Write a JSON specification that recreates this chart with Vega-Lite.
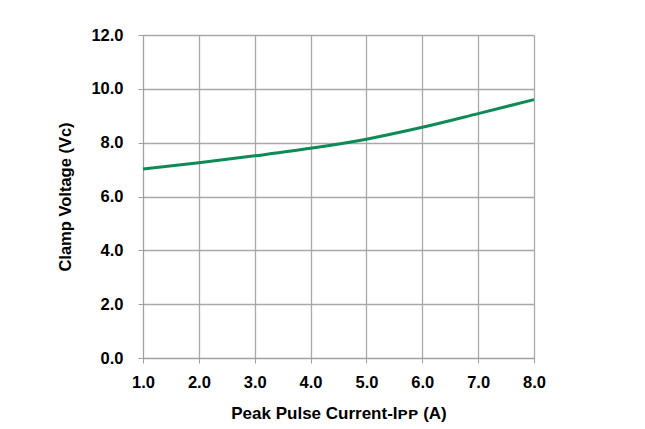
{
  "$schema": "https://vega.github.io/schema/vega-lite/v6.json",
  "autosize": "none",
  "width": 391,
  "height": 323,
  "padding": {"left": 143, "top": 35, "right": 111, "bottom": 71},
  "background": "white",
  "config": {
    "view": {"stroke": null},
    "font": "Liberation Sans"
  },
  "data": {
    "values": [
      {"current": 1, "voltage": 7.02},
      {"current": 2, "voltage": 7.25},
      {"current": 3, "voltage": 7.51},
      {"current": 4, "voltage": 7.79},
      {"current": 5, "voltage": 8.13},
      {"current": 6, "voltage": 8.57},
      {"current": 7, "voltage": 9.08},
      {"current": 8, "voltage": 9.6}
    ]
  },
  "mark": {"type": "line", "color": "#0e8a56", "strokeWidth": 3, "interpolate": "monotone"},
  "encoding": {
    "x": {
      "field": "current",
      "type": "quantitative",
      "scale": {"domain": [1, 8], "nice": false, "zero": false},
      "axis": {
        "values": [1, 2, 3, 4, 5, 6, 7, 8],
        "format": ".1f",
        "title": "Peak Pulse Current-Iᴘᴘ  (A)",
        "titleFont": "Liberation Sans",
        "titleFontSize": 17,
        "titleFontWeight": "bold",
        "titleColor": "black",
        "titlePadding": 15,
        "labelFont": "Liberation Sans",
        "labelFontSize": 16.5,
        "labelFontWeight": "bold",
        "labelColor": "black",
        "labelPadding": 11,
        "labelFlush": false,
        "labelOverlap": false,
        "tickSize": 5,
        "tickColor": "#a0a0a0",
        "domainColor": "#a0a0a0",
        "gridColor": "#a8a8a8",
        "gridWidth": 1.3,
        "grid": true
      }
    },
    "y": {
      "field": "voltage",
      "type": "quantitative",
      "scale": {"domain": [0, 12], "nice": false},
      "axis": {
        "values": [0, 2, 4, 6, 8, 10, 12],
        "format": ".1f",
        "title": "Clamp Voltage (Vᴄ)",
        "titleFont": "Liberation Sans",
        "titleFontSize": 16.5,
        "titleFontWeight": "bold",
        "titleColor": "black",
        "titlePadding": 17,
        "labelFont": "Liberation Sans",
        "labelFontSize": 16.5,
        "labelFontWeight": "bold",
        "labelColor": "black",
        "labelPadding": 15,
        "labelFlush": false,
        "labelOverlap": false,
        "tickSize": 5,
        "tickColor": "#a0a0a0",
        "domainColor": "#a0a0a0",
        "gridColor": "#a8a8a8",
        "gridWidth": 1.3,
        "grid": true
      }
    }
  }
}
